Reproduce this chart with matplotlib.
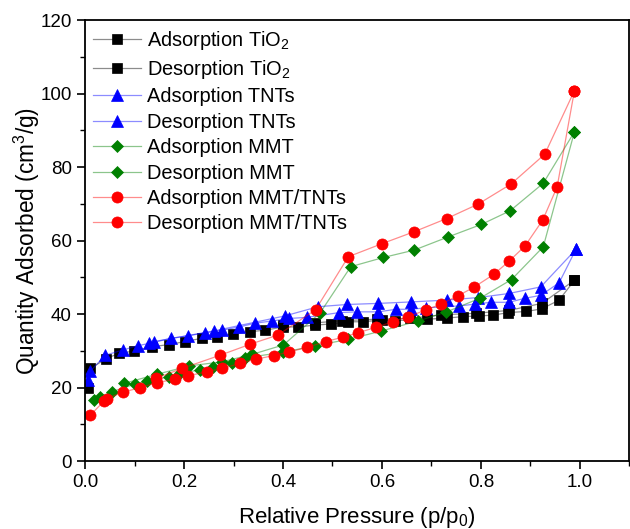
import matplotlib
matplotlib.use("Agg")
import matplotlib.pyplot as plt
from matplotlib.ticker import MultipleLocator
from matplotlib.colors import to_rgba

plt.rcParams['font.family'] = ['Liberation Sans', 'DejaVu Sans']
plt.rcParams['mathtext.fontset'] = 'custom'
plt.rcParams['mathtext.rm'] = 'Liberation Sans'
plt.rcParams['mathtext.it'] = 'Liberation Sans:italic'

# ---- data ----
tio2_ads_x = [0.006, 0.011, 0.042, 0.068, 0.098, 0.135, 0.170, 0.201, 0.236, 0.267, 0.298, 0.333, 0.364, 0.400,
              0.431, 0.465, 0.498, 0.531, 0.562, 0.601, 0.626, 0.692, 0.731, 0.764, 0.797, 0.825, 0.855, 0.891,
              0.923, 0.958, 0.989]
tio2_ads_y = [19.8, 25.2, 27.8, 29.3, 29.9, 31.1, 31.7, 32.5, 33.4, 33.8, 34.5, 35.2, 35.6, 36.5,
              36.5, 37.0, 37.3, 37.9, 37.9, 38.4, 38.2, 38.6, 38.9, 39.3, 39.5, 39.7, 40.4, 40.7,
              41.4, 43.8, 49.2]
tio2_des_x = [0.989, 0.923, 0.857, 0.790, 0.720, 0.657, 0.590, 0.520, 0.465, 0.400]
tio2_des_y = [49.2, 42.9, 41.0, 40.2, 39.8, 38.8, 38.6, 38.2, 37.6, 37.0]

tnt_ads_x = [0.005, 0.011, 0.041, 0.076, 0.107, 0.129, 0.174, 0.209, 0.243, 0.277, 0.312, 0.343, 0.377, 0.413,
             0.448, 0.514, 0.550, 0.593, 0.628, 0.659, 0.690, 0.756, 0.788, 0.820, 0.857, 0.889, 0.921, 0.958,
             0.992]
tnt_ads_y = [22.0, 24.5, 28.8, 30.2, 31.4, 32.0, 33.4, 34.1, 34.9, 35.6, 36.5, 37.5, 38.1, 38.8,
             39.1, 40.4, 40.6, 40.6, 41.3, 41.3, 41.7, 42.2, 42.7, 43.2, 43.2, 44.3, 45.1, 48.5,
             57.6]
tnt_des_x = [0.992, 0.921, 0.857, 0.795, 0.731, 0.659, 0.593, 0.529, 0.471, 0.404, 0.260, 0.139]
tnt_des_y = [57.6, 47.4, 45.6, 44.5, 43.8, 43.3, 42.9, 42.6, 42.0, 39.5, 35.4, 32.5]

mmt_ads_x = [0.018, 0.031, 0.055, 0.100, 0.125, 0.169, 0.191, 0.233, 0.259, 0.297, 0.324, 0.401, 0.465,
             0.532, 0.599, 0.673, 0.729, 0.798, 0.862, 0.926, 0.989]
mmt_ads_y = [16.6, 17.5, 18.9, 20.9, 21.8, 22.9, 23.9, 24.8, 25.7, 26.7, 28.1, 29.6, 31.4,
             33.1, 35.4, 38.1, 40.5, 44.3, 49.4, 58.3, 89.6]
mmt_des_x = [0.989, 0.926, 0.859, 0.801, 0.734, 0.665, 0.603, 0.537, 0.475, 0.401, 0.337, 0.277, 0.211,
             0.145, 0.078]
mmt_des_y = [89.6, 75.6, 68.1, 64.4, 61.0, 57.4, 55.4, 52.9, 40.3, 31.6, 29.0, 27.0, 25.9,
             23.6, 21.1]

mt_ads_x = [0.011, 0.038, 0.044, 0.076, 0.112, 0.145, 0.182, 0.209, 0.246, 0.277, 0.314, 0.345, 0.381, 0.413,
            0.448, 0.486, 0.521, 0.552, 0.588, 0.622, 0.653, 0.689, 0.719, 0.754, 0.786, 0.826, 0.857, 0.889,
            0.925, 0.954, 0.989]
mt_ads_y = [12.5, 16.3, 17.0, 18.7, 20.0, 21.3, 22.3, 23.2, 24.3, 25.2, 26.6, 27.7, 28.7, 29.7,
            30.9, 32.5, 33.7, 34.9, 36.4, 37.9, 39.3, 41.1, 42.7, 45.0, 47.3, 50.8, 54.4, 58.5,
            65.6, 74.6, 100.8]
mt_des_x = [0.989, 0.929, 0.861, 0.794, 0.731, 0.665, 0.601, 0.532, 0.466, 0.390, 0.334, 0.273, 0.196, 0.143]
mt_des_y = [100.8, 83.5, 75.4, 69.9, 66.0, 62.4, 59.2, 55.6, 41.2, 34.3, 31.8, 28.8, 25.2, 22.5]

x_ticks = [0.0, 0.2, 0.4, 0.6, 0.8, 1.0]
y_ticks = [0, 20, 40, 60, 80, 100, 120]

series = [
    ("Adsorption TiO$_2$", tio2_ads_x, tio2_ads_y, "black", "s", 7),
    ("Desorption TiO$_2$", tio2_des_x, tio2_des_y, "black", "s", 7),
    ("Adsorption TNTs", tnt_ads_x, tnt_ads_y, "#0000ff", "^", 8.5),
    ("Desorption TNTs", tnt_des_x, tnt_des_y, "#0000ff", "^", 8.5),
    ("Adsorption MMT", mmt_ads_x, mmt_ads_y, "#008000", "D", 6.5),
    ("Desorption MMT", mmt_des_x, mmt_des_y, "#008000", "D", 6.5),
    ("Adsorption MMT/TNTs", mt_ads_x, mt_ads_y, "#ff0000", "o", 8),
    ("Desorption MMT/TNTs", mt_des_x, mt_des_y, "#ff0000", "o", 8),
]

fig = plt.figure(figsize=(6.3, 5.29), dpi=100)
ax = fig.add_axes([0.135, 0.1285, 0.864, 0.8335])

for label, xs, ys, c, m, ms in series:
    ax.plot(xs, ys, color=to_rgba(c, 0.45), lw=0.9, marker=m, ms=ms,
            mfc=c, mec=c, mew=0.5, label=label)

ax.set_xlim(0, 1.1)
ax.set_ylim(0, 120)
ax.set_xticks(x_ticks)
ax.set_yticks(y_ticks)
ax.xaxis.set_minor_locator(MultipleLocator(0.1))
ax.yaxis.set_minor_locator(MultipleLocator(10))
ax.tick_params(which='major', direction='out', length=6, width=1.2, labelsize=13.5,
               top=False, right=False)
ax.tick_params(which='minor', direction='out', length=3.5, width=1.0, top=False, right=False)
ax.set_xticklabels([f"{v:.1f}" for v in x_ticks])
for sp in ax.spines.values():
    sp.set_linewidth(1.3)

ax.set_xlabel("Relative Pressure (p/p$_0$)", fontsize=16, labelpad=10)
ax.set_ylabel("Quantity Adsorbed (cm$^3$/g)", fontsize=16.3, labelpad=-1)

leg = ax.legend(loc='upper left', frameon=False, fontsize=14.4, handlelength=2.4,
                handletextpad=0.3, labelspacing=0.32, borderaxespad=0.12,
                borderpad=0.3, bbox_to_anchor=(0.0, 1.0))

fig.savefig("out.png", dpi=100)
